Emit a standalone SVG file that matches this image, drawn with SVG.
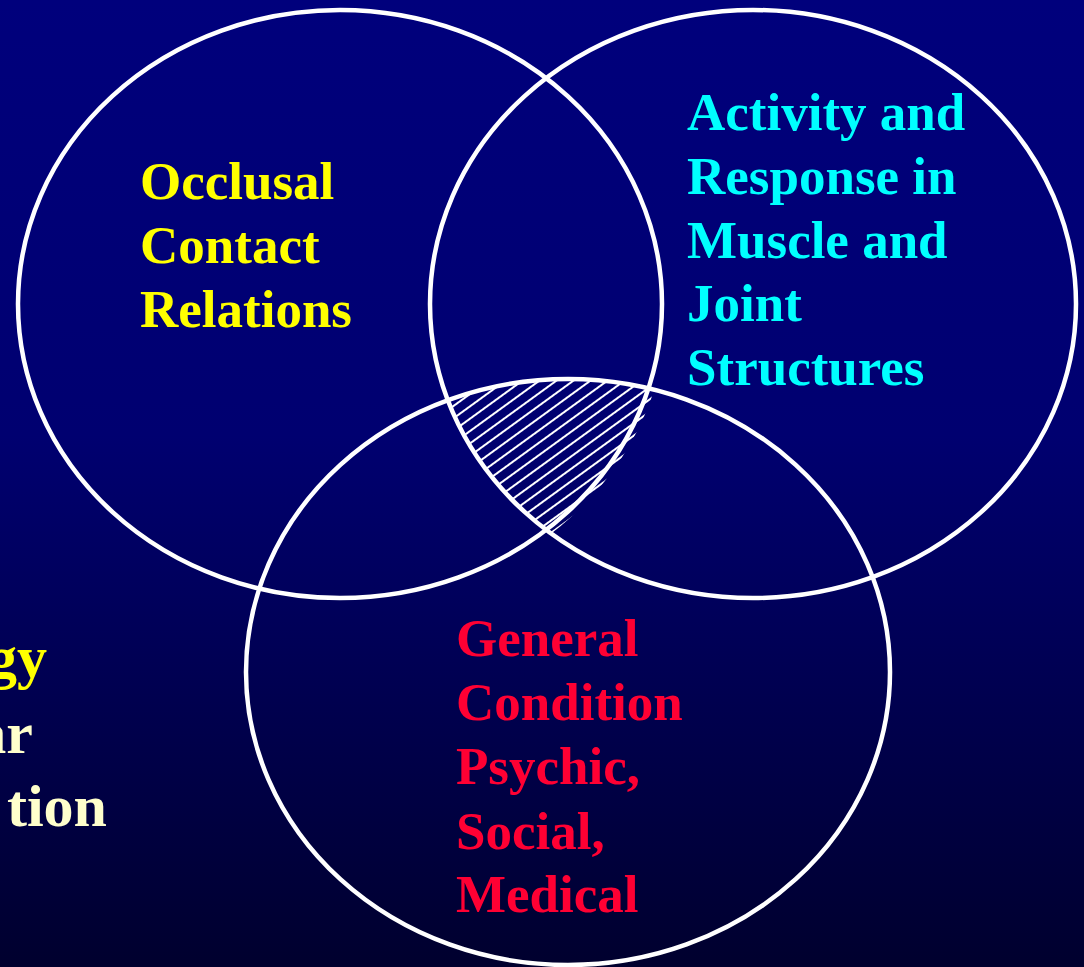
<svg xmlns="http://www.w3.org/2000/svg" width="1084" height="967" viewBox="0 0 1084 967">
  <defs>
    <linearGradient id="bg" x1="0" y1="0" x2="0" y2="1">
      <stop offset="0" stop-color="#00007C"/>
      <stop offset="0.45" stop-color="#000070"/>
      <stop offset="1" stop-color="#00002E"/>
    </linearGradient>
    <pattern id="hatch" patternUnits="userSpaceOnUse" width="24" height="10" patternTransform="rotate(-36)">
      <line x1="0" y1="5" x2="24" y2="5" stroke="#FFFFFF" stroke-width="2"/>
    </pattern>
    <clipPath id="clipLeft">
      <ellipse cx="340" cy="304" rx="328" ry="300"/>
    </clipPath>
    <clipPath id="clipRight">
      <ellipse cx="753" cy="304" rx="322" ry="293"/>
    </clipPath>
    <clipPath id="clipBottom">
      <ellipse cx="568" cy="672" rx="321" ry="292"/>
    </clipPath>
  </defs>
  <style>
    .ring { fill: none; stroke: #FFFFFF; stroke-width: 4.5; }
    .label { font-family: "Liberation Serif", "Times New Roman", serif; font-weight: bold; font-size: 53px; }
    .side { font-family: "Liberation Serif", "Times New Roman", serif; font-weight: bold; font-size: 60px; text-anchor: end; }
  </style>

  <rect x="0" y="0" width="1084" height="967" fill="url(#bg)"/>

  <!-- shared area of all three sets -->
  <g id="overlap">
    <g clip-path="url(#clipLeft)">
      <g clip-path="url(#clipRight)">
        <rect x="380" y="340" width="320" height="240" fill="url(#hatch)" clip-path="url(#clipBottom)"/>
      </g>
    </g>
  </g>

  <g id="circle-occlusal">
    <ellipse class="ring" cx="340" cy="304" rx="322" ry="294"/>
    <text class="label" fill="#FFFF00">
      <tspan x="140" y="199">Occlusal</tspan>
      <tspan x="140" y="263">Contact</tspan>
      <tspan x="140" y="327">Relations</tspan>
    </text>
  </g>

  <g id="circle-activity">
    <ellipse class="ring" cx="753" cy="304" rx="323" ry="294"/>
    <text class="label" fill="#00FFFF">
      <tspan x="687" y="130">Activity and</tspan>
      <tspan x="687" y="194">Response in</tspan>
      <tspan x="687" y="258">Muscle and</tspan>
      <tspan x="687" y="321">Joint</tspan>
      <tspan x="687" y="385">Structures</tspan>
    </text>
  </g>

  <g id="circle-general">
    <ellipse class="ring" cx="568" cy="672" rx="322" ry="293"/>
    <text class="label" fill="#FF0033">
      <tspan x="456" y="656">General</tspan>
      <tspan x="456" y="720">Condition</tspan>
      <tspan x="456" y="784">Psychic,</tspan>
      <tspan x="456" y="849">Social,</tspan>
      <tspan x="456" y="912">Medical</tspan>
    </text>
  </g>

  <!-- title lines running in from the left edge -->
  <g id="side-title">
    <text class="side" fill="#FFFF00" x="47" y="677">gy</text>
    <text class="side" fill="#FFFFCC" x="33" y="753">ar</text>
    <text class="side" fill="#FFFFCC" x="107" y="826">tion</text>
  </g>
</svg>
